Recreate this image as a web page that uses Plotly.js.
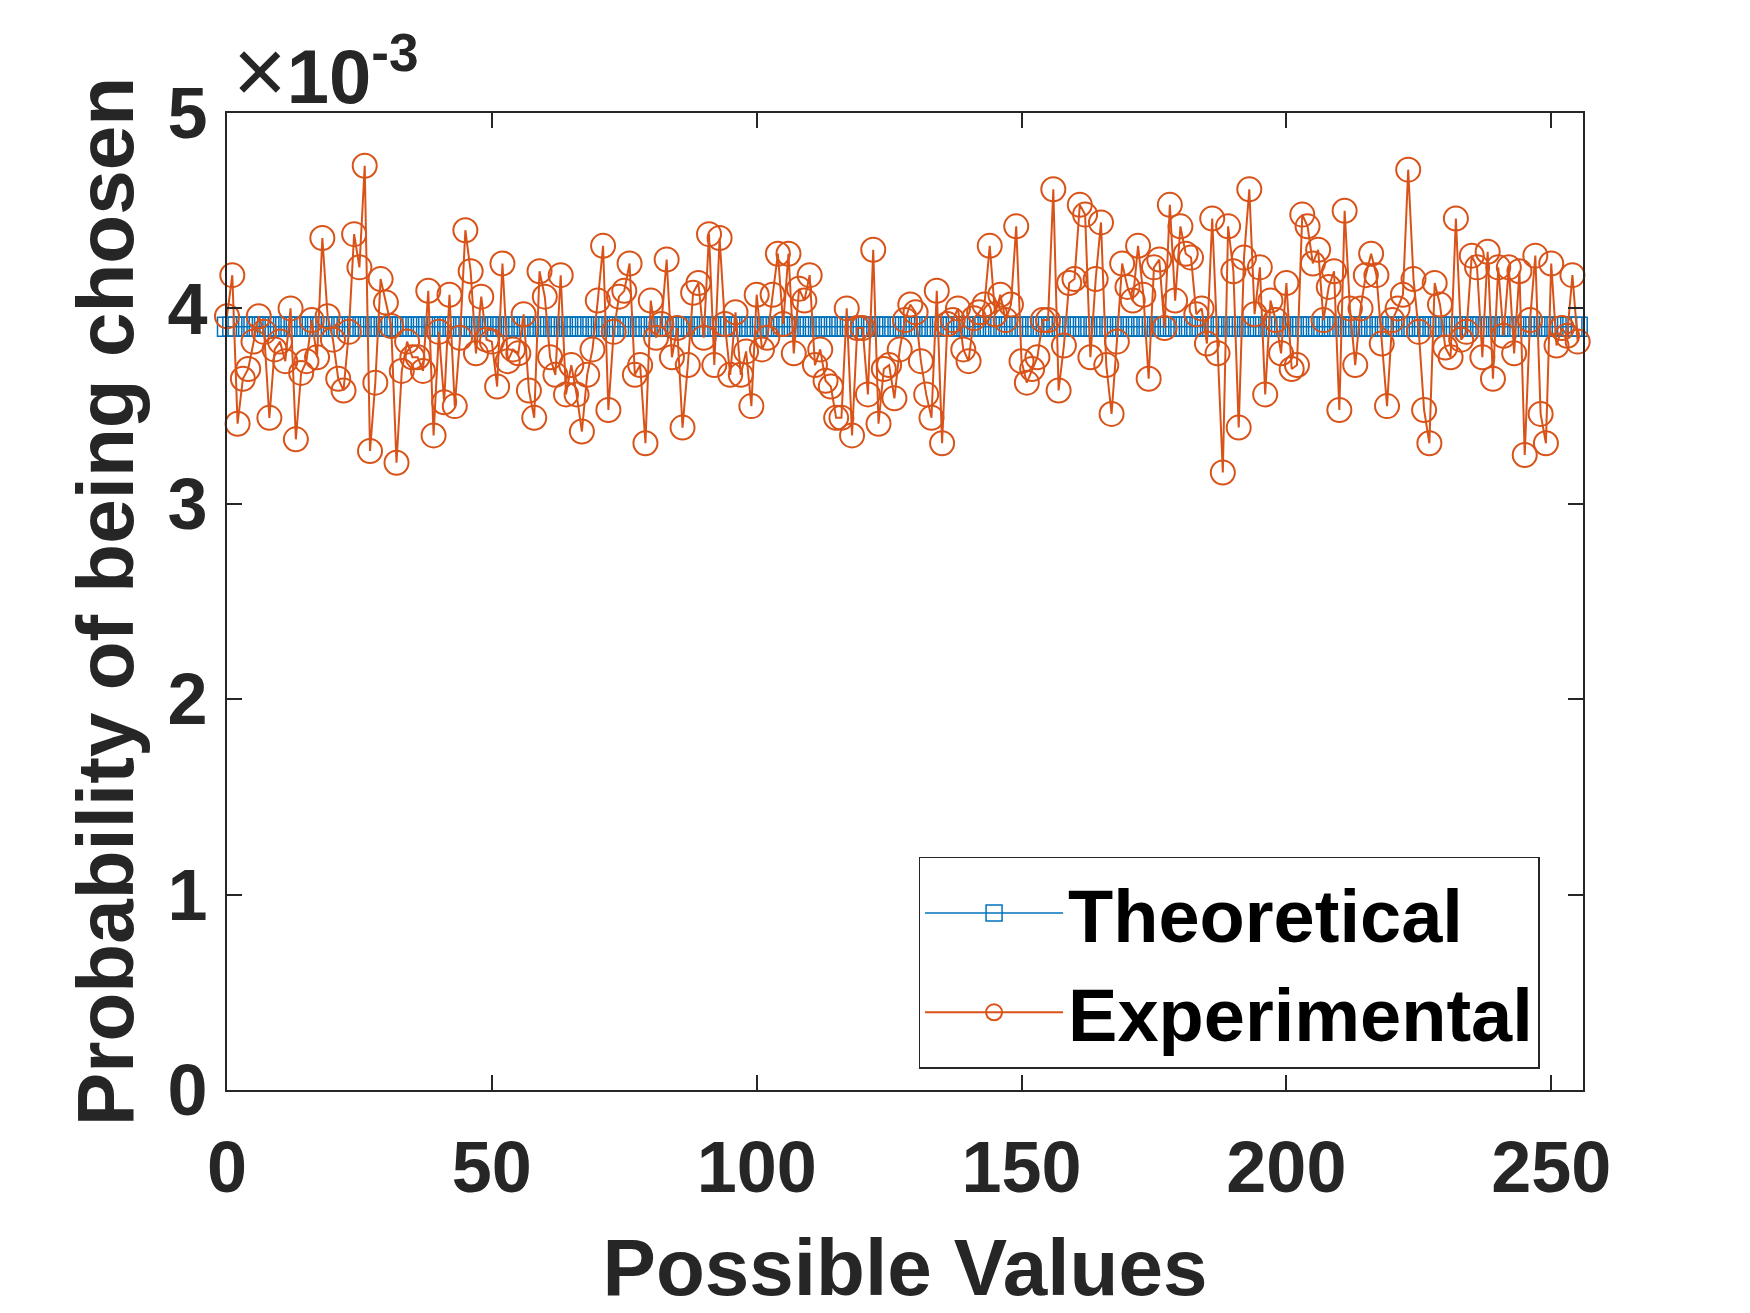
<!DOCTYPE html>
<html>
<head>
<meta charset="utf-8">
<script src="https://cdn.plot.ly/plotly-3.0.1.min.js"></script>
<style>
  html, body { margin: 0; padding: 0; background: #fff; }
  #chart { width: 1750px; height: 1313px; }
</style>
</head>
<body>
<div id="chart"></div>
<script>
// ── Data (probabilities, in units of 1e-3) ──────────────────────────
// x runs over the 256 possible byte values 0..255
const POSSIBLE_COUNT = 256;
const THEORETICAL = 3.90625;   // 1/256, shown ×10^-3

const experimental = [
  3.96, 4.17, 3.41, 3.64, 3.69, 3.83, 3.96, 3.88, 3.44, 3.79,
  3.83, 3.73, 4.00, 3.33, 3.67, 3.73, 3.94, 3.75, 4.36, 3.96,
  3.84, 3.64, 3.58, 3.88, 4.38, 4.21, 4.73, 3.27, 3.62, 4.15,
  4.03, 3.91, 3.21, 3.68, 3.83, 3.75, 3.75, 3.68, 4.09, 3.35,
  3.88, 3.52, 4.07, 3.50, 3.85, 4.40, 4.19, 3.77, 4.06, 3.84,
  3.83, 3.60, 4.23, 3.73, 3.79, 3.77, 3.97, 3.58, 3.44, 4.19,
  4.06, 3.75, 3.66, 4.17, 3.56, 3.71, 3.56, 3.37, 3.66, 3.79,
  4.04, 4.32, 3.48, 3.88, 4.06, 4.09, 4.23, 3.66, 3.71, 3.31,
  4.04, 3.85, 3.92, 4.25, 3.75, 3.90, 3.39, 3.71, 4.08, 4.13,
  3.85, 4.38, 3.71, 4.36, 3.92, 3.66, 3.98, 3.66, 3.78, 3.50,
  4.07, 3.79, 3.85, 4.07, 4.28, 3.92, 4.28, 3.77, 4.10, 4.04,
  4.17, 3.71, 3.79, 3.63, 3.60, 3.44, 3.44, 4.00, 3.35, 3.90,
  3.90, 3.56, 4.30, 3.41, 3.69, 3.71, 3.54, 3.79, 3.94, 4.02,
  3.98, 3.73, 3.56, 3.44, 4.09, 3.31, 3.92, 3.94, 4.00, 3.79,
  3.73, 3.95, 3.98, 4.02, 4.32, 3.97, 4.07, 3.94, 4.02, 4.42,
  3.73, 3.62, 3.69, 3.75, 3.94, 3.94, 4.61, 3.58, 3.81, 4.13,
  4.15, 4.53, 4.48, 3.75, 4.15, 4.44, 3.71, 3.46, 3.83, 4.23,
  4.11, 4.04, 4.32, 4.07, 3.64, 4.21, 4.25, 3.90, 4.53, 4.04,
  4.42, 4.28, 4.26, 3.97, 4.00, 3.82, 4.46, 3.77, 3.16, 4.42,
  4.19, 3.39, 4.26, 4.61, 3.97, 4.21, 3.56, 4.04, 3.94, 3.77,
  4.13, 3.69, 3.71, 4.48, 4.42, 4.23, 4.30, 3.94, 4.11, 4.19,
  3.48, 4.50, 4.00, 3.71, 4.00, 4.17, 4.28, 4.17, 3.82, 3.50,
  3.94, 4.00, 4.07, 4.71, 4.15, 3.88, 3.48, 3.31, 4.13, 4.02,
  3.80, 3.75, 4.46, 3.84, 3.88, 4.27, 4.21, 3.75, 4.29, 3.64,
  4.21, 3.86, 4.21, 3.77, 4.19, 3.25, 3.94, 4.27, 3.46, 3.31,
  4.23, 3.81, 3.90, 3.86, 4.17, 3.83
];

const xTicks = [0, 50, 100, 150, 200, 250];
const yTicks = [0, 1, 2, 3, 4, 5];

// ── Colours (MATLAB defaults) ───────────────────────────────────────
const BLUE = "#0072BD";
const ORANGE = "#D95319";
const AXIS = "#262626";
const FONT = "'Liberation Sans', Arial, Helvetica, sans-serif";

const xs = Array.from({ length: POSSIBLE_COUNT }, (_, i) => i);
const theoretical = xs.map(() => THEORETICAL);

const traces = [
  {
    x: xs, y: theoretical,
    type: "scatter", mode: "lines+markers",
    name: "Theoretical",
    line: { color: BLUE, width: 1.5 },
    marker: { symbol: "square-open", size: 19, color: BLUE, line: { width: 1.5, color: BLUE } },
    cliponaxis: false,
  },
  {
    x: xs, y: experimental,
    type: "scatter", mode: "lines+markers",
    name: "Experimental",
    line: { color: ORANGE, width: 2 },
    marker: { symbol: "circle-open", size: 24, color: ORANGE, line: { width: 2, color: ORANGE } },
    cliponaxis: false,
  },
];

const axisCommon = {
  showline: true,
  mirror: "ticks",
  linecolor: AXIS,
  linewidth: 2,
  ticks: "inside",
  ticklen: 15,
  tickwidth: 2,
  tickcolor: AXIS,
  showgrid: false,
  zeroline: false,
  tickfont: { family: FONT, size: 72, color: AXIS, weight: "bold" },
};

const layout = {
  width: 1750,
  height: 1313,
  margin: { l: 227, r: 167, t: 113, b: 223 },
  paper_bgcolor: "#fff",
  plot_bgcolor: "#fff",
  showlegend: true,
  xaxis: Object.assign({}, axisCommon, {
    range: [0, 256],
    tickvals: xTicks,
    ticktext: xTicks.map(String),
    ticklabelstandoff: 14,
    title: {
      text: "Possible Values",
      font: { family: FONT, size: 80, color: AXIS, weight: "bold" },
      standoff: 33,
    },
  }),
  yaxis: Object.assign({}, axisCommon, {
    range: [0, 5],
    tickvals: yTicks,
    ticktext: yTicks.map(String),
    ticklabelstandoff: 3,
    title: {
      text: "Probability of being chosen",
      font: { family: FONT, size: 80, color: AXIS, weight: "bold" },
      standoff: 8,
    },
  }),
  legend: {
    x: 0.51, xanchor: "left",
    y: 0.2385, yanchor: "top",
    bgcolor: "#fff",
    bordercolor: AXIS,
    borderwidth: 1.5,
    itemwidth: 138,
    font: { family: FONT, size: 74, color: "#000", weight: "bold" },
  },
  annotations: [
    {
      xref: "paper", yref: "paper",
      x: 0.003, y: 1, xanchor: "left", yanchor: "bottom",
      yshift: -11,
      text: "<span style='font-size:92px'>×</span><b>10</b><sup><b>-3</b></sup>",
      showarrow: false,
      font: { family: FONT, size: 76, color: AXIS },
    },
  ],
};

Plotly.newPlot("chart", traces, layout, { staticPlot: true, displayModeBar: false });
</script>
</body>
</html>
